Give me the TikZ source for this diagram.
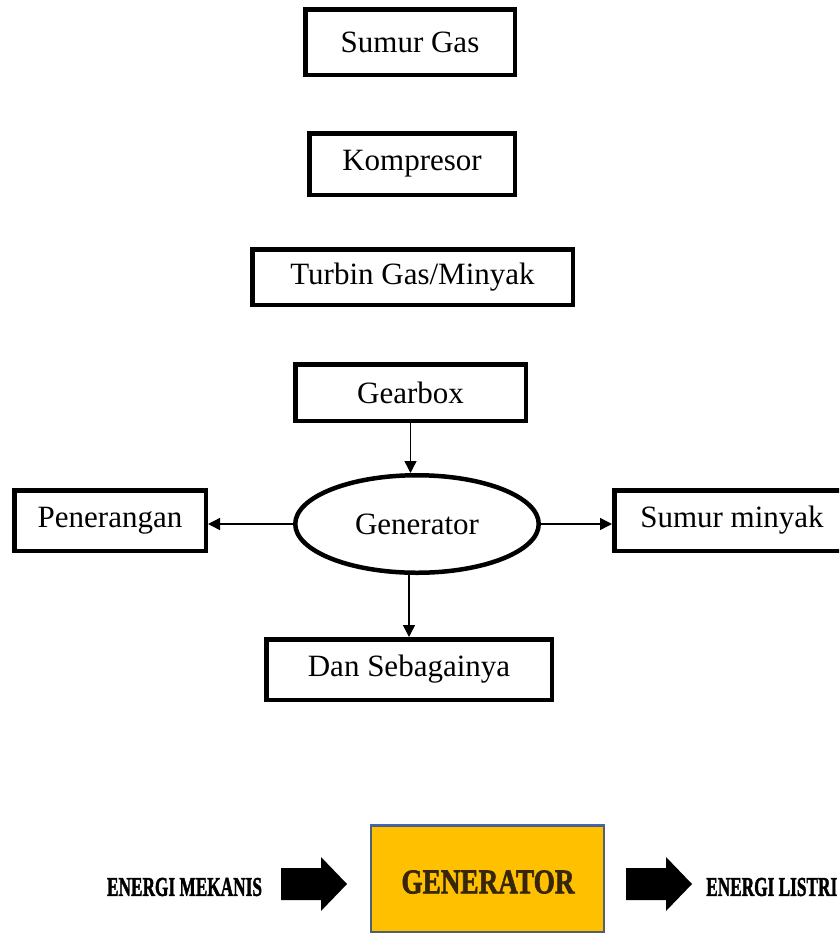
\documentclass[tikz,border=0pt]{standalone}
\usepackage{fontspec}
\setmainfont{Liberation Serif}
\newfontfamily\heavyfont{Liberation Serif}[UprightFont={* Bold},FakeBold=2]
\usetikzlibrary{arrows.meta,shapes.geometric}
\definecolor{genyellow}{RGB}{255,192,0}
\definecolor{genedge}{RGB}{80,96,112}
\definecolor{gentop}{RGB}{68,100,180}
\definecolor{gentext}{RGB}{55,38,10}

\begin{document}
\begin{tikzpicture}[x=1pt,y=1pt,yscale=-1,xscale=1,
  box/.style={draw,line width=4.5pt,inner sep=0pt,font=\fontsize{31}{37}\selectfont},
  flow/.style={-{Triangle[length=12pt,width=12pt]},line width=1.4pt},
  blockarrow/.style={fill=black,draw=none}]
\clip (0,0) rectangle (839,935);

% Shape: Rectangle
\node [box,minimum width=209.5,minimum height=65.5] (sumurgas) at (410,42) {Sumur Gas};
% Shape: Rectangle
\node [box,minimum width=205.5,minimum height=61.5] (kompresor) at (412,164) {Kompresor};
% Shape: Rectangle
\node [box,minimum width=320.5,minimum height=55.5] (turbin) at (412.5,277) {\raisebox{-4pt}{Turbin Gas/Minyak}};
% Shape: Rectangle
\node [box,minimum width=230.5,minimum height=56.5] (gearbox) at (410.5,392.5) {Gearbox};
% Shape: Ellipse
\node [box,ellipse,minimum width=243.5,minimum height=97.5] (generator) at (417,524) {Generator};
% Shape: Rectangle
\node [box,minimum width=191.5,minimum height=60.5] (penerangan) at (110,520.5) {Penerangan};
% Shape: Rectangle
\node [box,minimum width=235.5,minimum height=60.5] (sumurminyak) at (732,520.5) {Sumur minyak};
% Shape: Rectangle
\node [box,minimum width=285.5,minimum height=60.5] (lainnya) at (409,669.5) {Dan Sebagainya};

% Straight Lines
\draw [flow] (gearbox.south) -- (gearbox.south |- generator.north);
\draw [flow] (generator.west) -- (generator.west -| penerangan.east);
\draw [flow] (generator.east) -- (generator.east -| sumurminyak.west);
\draw [flow] (lainnya.north |- generator.south) -- (lainnya.north);

% Shape: Rectangle
\node [fill=genyellow,draw=genedge,line width=2pt,minimum width=233,minimum height=106,inner sep=0pt] (genbox) at (487.5,879) {};
\draw [gentop,line width=2.5pt] (genbox.north west) -- (genbox.north east);
% Text Node
\node [text=gentext,inner sep=0pt] (gentitle) at (488,882) {\resizebox{173pt}{23pt}{\heavyfont GENERATOR}};

% Shape: Block arrows
\fill [blockarrow] (281,868) -- (321,868) -- (321,857) -- (347,884) -- (321,911) -- (321,900) -- (281,900) -- cycle;
\fill [blockarrow] (626,868) -- (666,868) -- (666,857) -- (692,884) -- (666,911) -- (666,900) -- (626,900) -- cycle;

% Text Node
\node [inner sep=0pt] (mekanis) at (184.5,887) {\resizebox{155pt}{18pt}{\heavyfont ENERGI MEKANIS}};
% Text Node
\node [anchor=west,inner sep=0pt] (listrik) at (706,887) {\resizebox{131pt}{18pt}{\heavyfont ENERGI LISTRI}};

\end{tikzpicture}
\end{document}
